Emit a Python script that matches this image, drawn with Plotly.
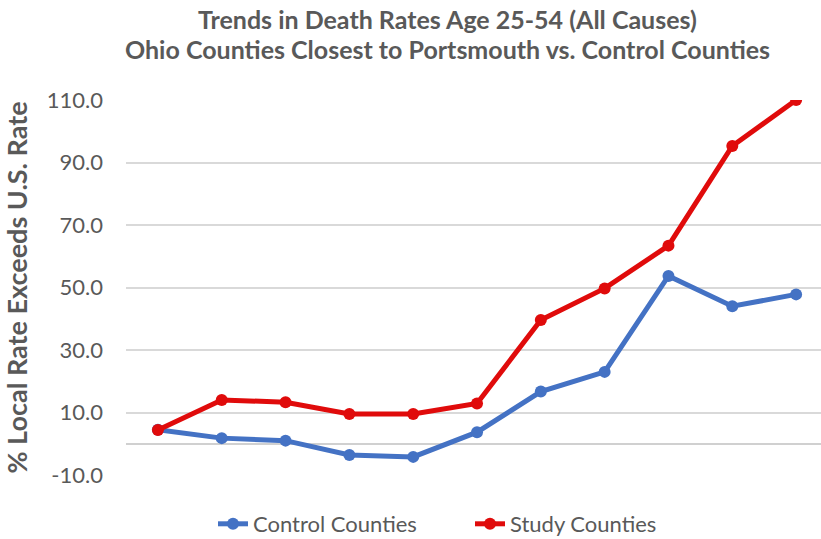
import plotly.graph_objects as go

periods = [1, 2, 3, 4, 5, 6, 7, 8, 9, 10, 11]
control = [4.5, 1.8, 1.0, -3.6, -4.2, 3.7, 16.7, 23.0, 53.7, 44.0, 47.8]
study = [4.4, 14.0, 13.3, 9.5, 9.5, 12.9, 39.6, 49.7, 63.4, 95.3, 110.0]
y_ticks = [-10, 10, 30, 50, 70, 90, 110]
title_lines = ["Trends in Death Rates Age 25-54 (All Causes)",
               "Ohio Counties Closest to Portsmouth vs. Control Counties"]

GREY = "#595959"
FONT = "Lato, Open Sans, sans-serif"

fig = go.Figure()
fig.add_trace(go.Scatter(
    x=list(range(len(periods))), y=control, name="Control Counties",
    mode="lines+markers",
    line=dict(color="#4472C4", width=5),
    marker=dict(symbol="circle", size=12, color="#4472C4"),
))
fig.add_trace(go.Scatter(
    x=list(range(len(periods))), y=study, name="Study Counties",
    mode="lines+markers",
    line=dict(color="#E00B0B", width=5),
    marker=dict(symbol="circle", size=12, color="#E00B0B"),
))

for i, (line, ypix) in enumerate(zip(title_lines, [19, 49])):
    fig.add_annotation(
        text=f"<b>{line}</b>", xref="paper", yref="paper",
        x=(447 - 126) / (821 - 126), y=1 + (100 - ypix) / 375,
        xanchor="center", yanchor="middle", showarrow=False,
        font=dict(family=FONT, size=25, color=GREY),
    )

fig.update_layout(
    width=821, height=539,
    margin=dict(l=126, r=0, t=100, b=64, autoexpand=False),
    plot_bgcolor="white", paper_bgcolor="white",
    font=dict(family=FONT, color=GREY, size=18),
    showlegend=True,
    legend=dict(
        orientation="h", x=(213 - 126) / (821 - 126), xanchor="left",
        y=-(524 - 475) / 375, yanchor="middle",
        entrywidth=212, entrywidthmode="pixels",
        font=dict(family=FONT, size=22, color=GREY),
    ),
)

fig.update_xaxes(
    range=[-0.5, 10.39], showticklabels=False, showgrid=False,
    zeroline=False, showline=False, ticks="",
)
fig.update_yaxes(
    range=[-10, 110], tickvals=y_ticks,
    ticktext=[f"{v:.1f}" for v in y_ticks],
    showgrid=True, gridcolor="#D9D9D9", gridwidth=1.5,
    zeroline=True, zerolinecolor="#D0D0D0", zerolinewidth=1.5,
    tickfont=dict(family=FONT, size=22, color=GREY),
    ticks="", ticklabelstandoff=22,
    title=dict(text="<b>% Local Rate Exceeds U.S. Rate</b>",
               font=dict(family=FONT, size=27, color=GREY), standoff=12),
)

fig.write_html("out.html")
